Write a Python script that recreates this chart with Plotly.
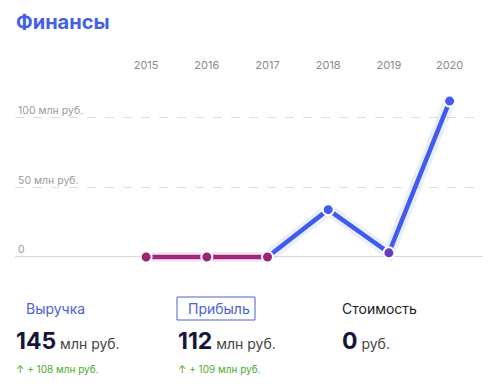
import plotly.graph_objects as go

years = [2015, 2016, 2017, 2018, 2019, 2020]
profit = [0, 0, 0, 34, 3, 112]
marker_colors = ["#9c2478", "#9c2478", "#9c2478", "#3f5bf0", "#6a3ac0", "#3f5bf0"]
ytick_vals = [0, 50, 100]
ytick_text = ["0", "50 млн руб.", "100 млн руб."]

BLUE = "#3f5bf0"
MAGENTA = "#a3257f"
FONT = "Inter, Roboto, sans-serif"

fig = go.Figure()
# glow
fig.add_trace(go.Scatter(x=years[2:], y=profit[2:], mode="lines",
                         line=dict(color="rgba(63,91,240,0.10)", width=12),
                         hoverinfo="skip", showlegend=False))
fig.add_trace(go.Scatter(x=years[:3], y=profit[:3], mode="lines",
                         line=dict(color="rgba(163,37,127,0.10)", width=10),
                         hoverinfo="skip", showlegend=False))
fig.add_trace(go.Scatter(x=years[2:], y=profit[2:], mode="lines",
                         line=dict(color=BLUE, width=4.5), showlegend=False))
fig.add_trace(go.Scatter(x=years[:3], y=profit[:3], mode="lines",
                         line=dict(color=MAGENTA, width=4.5), showlegend=False))
fig.add_trace(go.Scatter(x=years, y=profit, mode="markers",
                         marker=dict(color=marker_colors, size=11,
                                     line=dict(color="white", width=2)),
                         showlegend=False))

fig.update_layout(
    width=495, height=389,
    margin=dict(l=15, r=12, t=76, b=127),
    paper_bgcolor="white", plot_bgcolor="white",
    font=dict(family=FONT),
    xaxis=dict(side="top", range=[2012.84, 2020.55], tickvals=years,
               ticktext=[str(y) for y in years], showgrid=False, zeroline=False,
               showline=False, ticks="", tickfont=dict(size=11, color="#8a8a8a"),
               ticklabelstandoff=4),
    yaxis=dict(range=[-3.6, 130], tickvals=ytick_vals, ticktext=ytick_text,
               ticklabelposition="inside top", tickfont=dict(size=10.5, color="#9a9a9a"),
               showgrid=True, gridcolor="#dedede", griddash="dash", gridwidth=1,
               zeroline=True, zerolinecolor="#d8d8d8", zerolinewidth=1,
               showline=False, ticks=""),
)

anns = [
    dict(x=14, y=22, text="<b>Финансы</b>", font=dict(size=20, color="#4460e6")),
    dict(x=24, y=308, text="Выручка", font=dict(size=14, color="#4a62d8")),
    dict(x=186, y=308, text="Прибыль", font=dict(size=14, color="#4a62d8")),
    dict(x=340, y=308, text="Стоимость", font=dict(size=14, color="#222222")),
    dict(x=14, y=341, text="<b><span style='font-size:23px;color:#16163a'>145</span></b> млн руб.",
         font=dict(size=14, color="#444444")),
    dict(x=176, y=341, text="<b><span style='font-size:23px;color:#16163a'>112</span></b> млн руб.",
         font=dict(size=14, color="#444444")),
    dict(x=340, y=341, text="<b><span style='font-size:23px;color:#16163a'>0</span></b> руб.",
         font=dict(size=14, color="#444444")),
    dict(x=14, y=369, text="↑ + 108 млн руб.", font=dict(size=10, color="#4caa2c")),
    dict(x=176, y=369, text="↑ + 109 млн руб.", font=dict(size=10, color="#4caa2c")),
]
plot_w = 495 - 15 - 12
plot_h = 389 - 76 - 127
for a in anns:
    fig.add_annotation(xref="paper", yref="paper",
                       x=(a["x"] - 15) / plot_w, y=(389 - 127 - a["y"]) / plot_h,
                       showarrow=False, text=a["text"], font=a["font"],
                       xanchor="left", yanchor="middle")

fig.add_shape(type="rect", xref="paper", yref="paper",
              x0=(177 - 15) / plot_w, x1=(255 - 15) / plot_w,
              y0=(389 - 127 - 320) / plot_h, y1=(389 - 127 - 297) / plot_h,
              line=dict(color="#4a62d8", width=1), fillcolor="rgba(0,0,0,0)")

fig.write_html("out.html", config={"displayModeBar": False},
               post_script="document.body.style.margin='0';document.body.style.overflow='hidden';")
